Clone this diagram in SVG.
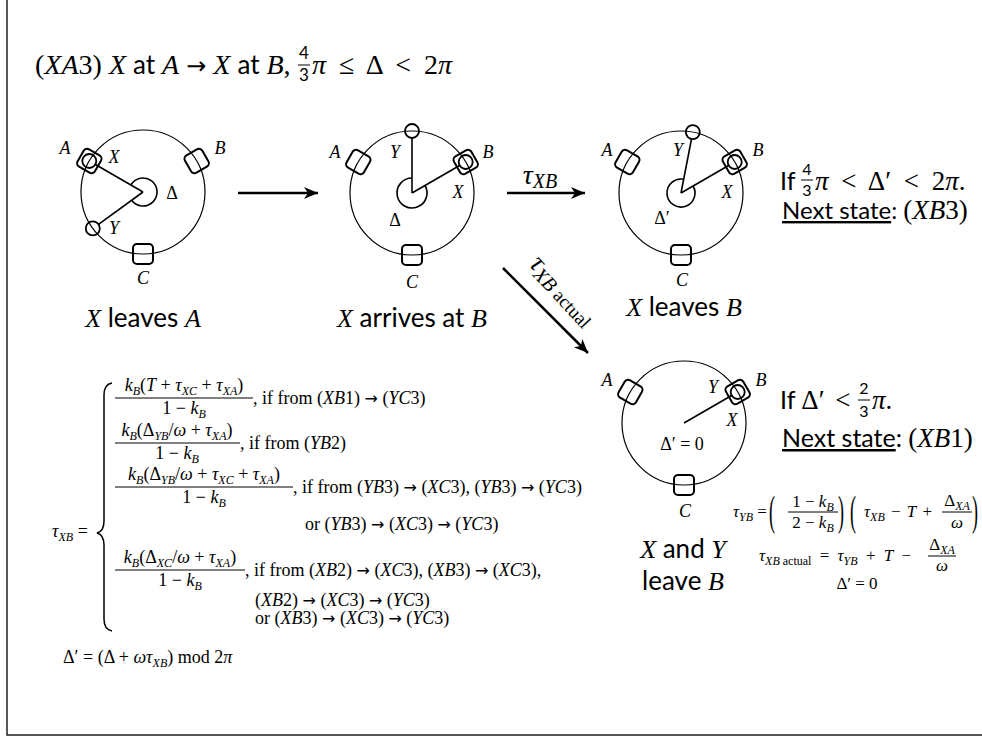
<svg xmlns="http://www.w3.org/2000/svg" width="982" height="738" viewBox="0 0 982 738">
<defs>
<style>
.m{font-family:"Liberation Serif","DejaVu Serif",serif}
.i{font-style:italic}
.t{font-family:Lato,"Liberation Sans",sans-serif}
.ar{font-family:"DejaVu Sans",sans-serif;font-style:normal}
.lbl{font-family:"Liberation Serif","DejaVu Serif",serif;font-style:italic;font-size:18px;text-anchor:middle}
.up{font-style:normal}
.ring{fill:none;stroke:#000;stroke-width:1.2}
.sq{fill:none;stroke:#000;stroke-width:2}
.dot{fill:none;stroke:#000;stroke-width:1.8}
.hand{fill:none;stroke:#000;stroke-width:1.6}
.arr{fill:none;stroke:#000;stroke-width:2.5}
.bar{stroke:#000;stroke-width:1}
.f{font-family:"Liberation Serif","DejaVu Serif",serif;font-size:18px}
.g{font-family:"Liberation Serif","DejaVu Serif",serif;font-size:17px}
.sub{font-size:12px;font-style:italic}
.cap{font-size:26px}
.u{text-decoration:underline}
</style>
<rect id="sqr" x="-10" y="-10" width="20" height="20" rx="4"/>
<marker id="ah" markerUnits="userSpaceOnUse" markerWidth="16" markerHeight="14" refX="14" refY="6" orient="auto" viewBox="0 0 16 14">
<path d="M0,0 L14,6 L0,12 L4,6 z" fill="#000"/>
</marker>
</defs>
<rect width="982" height="738" fill="#fff"/>
<g id="frame" fill="none" stroke="#222" stroke-width="1.5">
<path d="M7,0 V735 H982"/>
</g>

<g id="title">
<text class="m" x="35" y="74" font-size="28">(<tspan class="i">XA</tspan>3) <tspan class="i">X</tspan> <tspan class="t" font-size="26">at</tspan> <tspan class="i">A</tspan> <tspan class="ar" font-size="24">→</tspan> <tspan class="i">X</tspan> <tspan class="t" font-size="26">at</tspan> <tspan class="i">B</tspan>,</text>
<text class="t" x="304" y="59" font-size="17" text-anchor="middle">4</text>
<line class="bar" x1="298" y1="65" x2="310" y2="65"/>
<text class="t" x="304" y="81" font-size="17" text-anchor="middle">3</text>
<text class="m" x="312" y="74" font-size="28" word-spacing="6"><tspan class="i">π</tspan> ≤ Δ &lt; 2<tspan class="i">π</tspan></text>
</g>

<g id="state1">
<circle class="ring" cx="143" cy="192" r="62"/>
<line class="hand" x1="143" y1="192" x2="95.4" y2="164.5"/>
<line class="hand" x1="143" y1="192" x2="98.5" y2="224.3"/>
<path class="hand" d="M130.9,185 A14,14 0 1 1 131.7,200.2"/>
<use href="#sqr" class="sq" transform="translate(89.3,161) rotate(30)"/>
<use href="#sqr" class="sq" transform="translate(196.7,161) rotate(-30)"/>
<use href="#sqr" class="sq" transform="translate(143,254)"/>
<circle class="dot" cx="89.3" cy="161" r="7"/>
<circle class="dot" cx="92.8" cy="228.4" r="7"/>
<text class="lbl" x="65" y="154">A</text>
<text class="lbl" x="114" y="163">X</text>
<text class="lbl" x="220" y="154">B</text>
<text class="lbl" x="114" y="234">Y</text>
<text class="lbl up" x="172" y="199">Δ</text>
<text class="lbl" x="143" y="284">C</text>
<text class="t cap" x="143" y="327" text-anchor="middle"><tspan class="m i">X</tspan> leaves <tspan class="m i">A</tspan></text>
</g>

<g id="state2">
<circle class="ring" cx="412" cy="193" r="62"/>
<line class="hand" x1="412" y1="193" x2="412" y2="138"/>
<line class="hand" x1="412" y1="193" x2="459.6" y2="165.5"/>
<path class="hand" d="M425,185.5 A15,15 0 1 1 412,178"/>
<use href="#sqr" class="sq" transform="translate(358.3,162) rotate(30)"/>
<use href="#sqr" class="sq" transform="translate(465.7,162) rotate(-30)"/>
<use href="#sqr" class="sq" transform="translate(412,255)"/>
<circle class="dot" cx="412" cy="131" r="7"/>
<circle class="dot" cx="465.7" cy="162" r="7"/>
<text class="lbl" x="335" y="158">A</text>
<text class="lbl" x="395" y="158">Y</text>
<text class="lbl" x="488" y="158">B</text>
<text class="lbl" x="458" y="198">X</text>
<text class="lbl up" x="395" y="226">Δ</text>
<text class="lbl" x="412" y="288">C</text>
<text class="t cap" x="412" y="327" text-anchor="middle"><tspan class="m i">X</tspan> arrives at <tspan class="m i">B</tspan></text>
</g>

<g id="state3">
<circle class="ring" cx="681" cy="193" r="62"/>
<line class="hand" x1="681" y1="193" x2="691.5" y2="139"/>
<line class="hand" x1="681" y1="193" x2="728.6" y2="165.5"/>
<path class="hand" d="M693.1,186 A14,14 0 1 1 683.7,179.3"/>
<use href="#sqr" class="sq" transform="translate(627.3,162) rotate(30)"/>
<use href="#sqr" class="sq" transform="translate(734.7,162) rotate(-30)"/>
<use href="#sqr" class="sq" transform="translate(681,255)"/>
<circle class="dot" cx="692.8" cy="132.1" r="7"/>
<circle class="dot" cx="734.7" cy="162" r="7"/>
<text class="lbl" x="607" y="156">A</text>
<text class="lbl" x="678" y="156">Y</text>
<text class="lbl" x="758" y="156">B</text>
<text class="lbl" x="727" y="198">X</text>
<text class="lbl up" x="662" y="224">Δ′</text>
<text class="lbl" x="682" y="286">C</text>
<text class="t cap" x="684" y="316" text-anchor="middle"><tspan class="m i">X</tspan> leaves <tspan class="m i">B</tspan></text>
<text class="t" x="780" y="190" font-size="25">If</text>
<text class="t" x="807" y="175" font-size="16" text-anchor="middle">4</text>
<line class="bar" x1="801" y1="180" x2="813" y2="180"/>
<text class="t" x="807" y="196" font-size="16" text-anchor="middle">3</text>
<text class="m" x="815" y="190" font-size="27" word-spacing="6"><tspan class="i">π</tspan> &lt; Δ′ &lt; 2<tspan class="i">π</tspan>.</text>
<text class="t" x="782" y="219" font-size="24"><tspan class="u">Next state</tspan>: <tspan class="m" font-size="27">(<tspan class="i">XB</tspan>3)</tspan></text>
</g>

<g id="state4">
<circle class="ring" cx="684" cy="423" r="62"/>
<line class="hand" x1="684" y1="423" x2="731.6" y2="395.5"/>
<use href="#sqr" class="sq" transform="translate(630.3,392) rotate(30)"/>
<use href="#sqr" class="sq" transform="translate(737.7,392) rotate(-30)"/>
<use href="#sqr" class="sq" transform="translate(684,485)"/>
<circle class="dot" cx="737.7" cy="392" r="7"/>
<text class="lbl" x="607" y="386">A</text>
<text class="lbl" x="713" y="393">Y</text>
<text class="lbl" x="761" y="386">B</text>
<text class="lbl" x="732" y="426">X</text>
<text class="lbl up" x="682" y="450">Δ′ = 0</text>
<text class="lbl" x="685" y="517">C</text>
<text class="t cap" x="683" y="558" text-anchor="middle"><tspan class="m i">X</tspan> and <tspan class="m i">Y</tspan></text>
<text class="t cap" x="683" y="590" text-anchor="middle">leave <tspan class="m i">B</tspan></text>
<text class="t" x="780" y="409" font-size="25">If <tspan class="m" font-size="27" word-spacing="4">Δ′ &lt;</tspan></text>
<text class="t" x="864" y="394" font-size="16" text-anchor="middle">2</text>
<line class="bar" x1="858" y1="400" x2="870" y2="400"/>
<text class="t" x="864" y="417" font-size="16" text-anchor="middle">3</text>
<text class="m" x="872" y="409" font-size="27"><tspan class="i">π</tspan>.</text>
<text class="t" x="782" y="447" font-size="25"><tspan class="u">Next state</tspan>: <tspan class="m" font-size="27">(<tspan class="i">XB</tspan>1)</tspan></text>
<text class="g" x="733" y="517"><tspan class="i">τ</tspan><tspan class="sub" dy="4">YB</tspan><tspan dy="-4"> =</tspan></text>
<text class="m" font-size="18" transform="translate(769,525) scale(1,2.3)">(</text>
<text class="g" x="813" y="507" text-anchor="middle">1 − <tspan class="i">k</tspan><tspan class="sub" dy="4">B</tspan></text>
<line class="bar" x1="788" y1="512" x2="838" y2="512"/>
<text class="g" x="813" y="528" text-anchor="middle">2 − <tspan class="i">k</tspan><tspan class="sub" dy="4">B</tspan></text>
<text class="m" font-size="18" transform="translate(838,525) scale(1,2.3)">)</text>
<text class="m" font-size="18" transform="translate(850,525) scale(1,2.3)">(</text>
<text class="g" x="864" y="517" word-spacing="2"><tspan class="i">τ</tspan><tspan class="sub" dy="4">XB</tspan><tspan dy="-4"> − </tspan><tspan class="i">T</tspan> +</text>
<text class="g" x="957" y="506" text-anchor="middle">Δ<tspan class="sub" dy="4">XA</tspan></text>
<line class="bar" x1="942" y1="512" x2="972" y2="512"/>
<text class="g i" x="957" y="528" text-anchor="middle">ω</text>
<text class="m" font-size="18" transform="translate(972,525) scale(1,2.3)">)</text>
<text class="g" x="759" y="561" word-spacing="4"><tspan class="i">τ</tspan><tspan class="sub" dy="4">XB</tspan><tspan font-size="12" dy="0" word-spacing="0"> actual</tspan><tspan dy="-4"> = </tspan><tspan class="i">τ</tspan><tspan class="sub" dy="4">YB</tspan><tspan dy="-4"> + </tspan><tspan class="i">T</tspan> −</text>
<text class="g" x="942" y="550" text-anchor="middle">Δ<tspan class="sub" dy="4">XA</tspan></text>
<line class="bar" x1="928" y1="556" x2="956" y2="556"/>
<text class="g i" x="942" y="571" text-anchor="middle">ω</text>
<text class="g" x="857" y="589" text-anchor="middle">Δ′ = 0</text>
</g>

<g id="formulas">
<text class="f" x="52" y="537"><tspan class="i">τ</tspan><tspan class="sub" dy="4">XB</tspan><tspan dy="-4"> =</tspan></text>
<path d="M112,383 C106,384 104,388 104,395 L104,521 C104,528 101,532 97,533 C101,534 104,538 104,545 L104,619 C104,626 106,630 112,631" fill="none" stroke="#000" stroke-width="1.5"/>
<text class="f" x="184" y="391" text-anchor="middle"><tspan class="i">k</tspan><tspan class="sub" dy="4">B</tspan><tspan dy="-4">(</tspan><tspan class="i">T</tspan> + <tspan class="i">τ</tspan><tspan class="sub" dy="4">XC</tspan><tspan dy="-4"> + </tspan><tspan class="i">τ</tspan><tspan class="sub" dy="4">XA</tspan><tspan dy="-4">)</tspan></text>
<line class="bar" x1="115" y1="398" x2="253" y2="398"/>
<text class="f" x="184" y="414" text-anchor="middle">1 − <tspan class="i">k</tspan><tspan class="sub" dy="4">B</tspan></text>
<text class="f" x="253" y="404">, if from (<tspan class="i">XB</tspan>1) <tspan class="ar" font-size="16">→</tspan> (<tspan class="i">YC</tspan>3)</text>

<text class="f" x="177" y="436" text-anchor="middle"><tspan class="i">k</tspan><tspan class="sub" dy="4">B</tspan><tspan dy="-4">(Δ</tspan><tspan class="sub" dy="4">YB</tspan><tspan dy="-4">/</tspan><tspan class="i">ω</tspan> + <tspan class="i">τ</tspan><tspan class="sub" dy="4">XA</tspan><tspan dy="-4">)</tspan></text>
<line class="bar" x1="115" y1="443" x2="240" y2="443"/>
<text class="f" x="177" y="459" text-anchor="middle">1 − <tspan class="i">k</tspan><tspan class="sub" dy="4">B</tspan></text>
<text class="f" x="240" y="449">, if from (<tspan class="i">YB</tspan>2)</text>

<text class="f" x="204" y="480" text-anchor="middle"><tspan class="i">k</tspan><tspan class="sub" dy="4">B</tspan><tspan dy="-4">(Δ</tspan><tspan class="sub" dy="4">YB</tspan><tspan dy="-4">/</tspan><tspan class="i">ω</tspan> + <tspan class="i">τ</tspan><tspan class="sub" dy="4">XC</tspan><tspan dy="-4"> + </tspan><tspan class="i">τ</tspan><tspan class="sub" dy="4">XA</tspan><tspan dy="-4">)</tspan></text>
<line class="bar" x1="115" y1="487" x2="293" y2="487"/>
<text class="f" x="204" y="503" text-anchor="middle">1 − <tspan class="i">k</tspan><tspan class="sub" dy="4">B</tspan></text>
<text class="f" x="293" y="493">, if from (<tspan class="i">YB</tspan>3) <tspan class="ar" font-size="16">→</tspan> (<tspan class="i">XC</tspan>3), (<tspan class="i">YB</tspan>3) <tspan class="ar" font-size="16">→</tspan> (<tspan class="i">YC</tspan>3)</text>
<text class="f" x="305" y="530">or (<tspan class="i">YB</tspan>3) <tspan class="ar" font-size="16">→</tspan> (<tspan class="i">XC</tspan>3) <tspan class="ar" font-size="16">→</tspan> (<tspan class="i">YC</tspan>3)</text>

<text class="f" x="180" y="563" text-anchor="middle"><tspan class="i">k</tspan><tspan class="sub" dy="4">B</tspan><tspan dy="-4">(Δ</tspan><tspan class="sub" dy="4">XC</tspan><tspan dy="-4">/</tspan><tspan class="i">ω</tspan> + <tspan class="i">τ</tspan><tspan class="sub" dy="4">XA</tspan><tspan dy="-4">)</tspan></text>
<line class="bar" x1="115" y1="570" x2="245" y2="570"/>
<text class="f" x="180" y="586" text-anchor="middle">1 − <tspan class="i">k</tspan><tspan class="sub" dy="4">B</tspan></text>
<text class="f" x="245" y="576">, if from (<tspan class="i">XB</tspan>2) <tspan class="ar" font-size="16">→</tspan> (<tspan class="i">XC</tspan>3), (<tspan class="i">XB</tspan>3) <tspan class="ar" font-size="16">→</tspan> (<tspan class="i">XC</tspan>3),</text>
<text class="f" x="255" y="606">(<tspan class="i">XB</tspan>2) <tspan class="ar" font-size="16">→</tspan> (<tspan class="i">XC</tspan>3) <tspan class="ar" font-size="16">→</tspan> (<tspan class="i">YC</tspan>3)</text>
<text class="f" x="255" y="624">or (<tspan class="i">XB</tspan>3) <tspan class="ar" font-size="16">→</tspan> (<tspan class="i">XC</tspan>3) <tspan class="ar" font-size="16">→</tspan> (<tspan class="i">YC</tspan>3)</text>

<text class="f" x="63" y="663">Δ′ = (Δ + <tspan class="i">ωτ</tspan><tspan class="sub" dy="4">XB</tspan><tspan dy="-4">) mod 2</tspan><tspan class="i">π</tspan></text>
</g>

<g id="connectors">
<line class="arr" x1="238" y1="193" x2="318" y2="193" marker-end="url(#ah)"/>
<line class="arr" x1="507" y1="193" x2="585" y2="193" marker-end="url(#ah)"/>
<text class="m" x="540" y="184" text-anchor="middle" font-size="28"><tspan class="i">τ</tspan><tspan class="i" font-size="20" dy="4">XB</tspan></text>
<line class="arr" x1="503" y1="268" x2="588" y2="353" marker-end="url(#ah)"/>
<text class="m" transform="translate(557,296) rotate(47)" text-anchor="middle" font-size="28"><tspan class="i">τ</tspan><tspan class="i" font-size="20" dy="4">XB</tspan><tspan font-size="19"> actual</tspan></text>
</g>
</svg>
